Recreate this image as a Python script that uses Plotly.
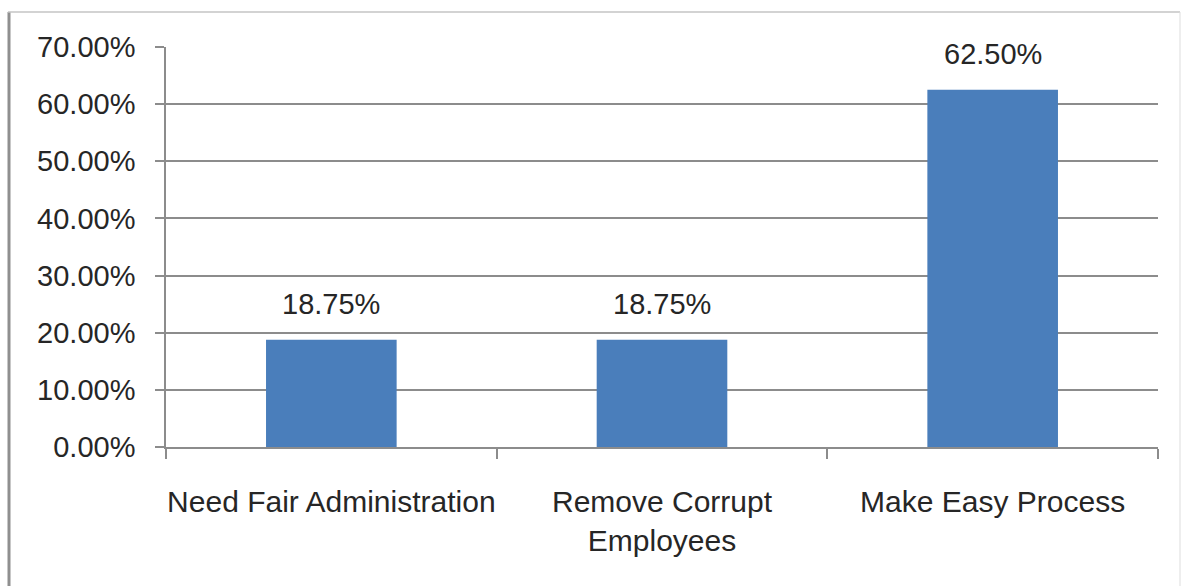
import plotly.graph_objects as go

categories = ["Need Fair Administration", "Remove Corrupt<br>Employees", "Make Easy Process"]
shares = [0.1875, 0.1875, 0.625]
y_ticks = [0, 0.1, 0.2, 0.3, 0.4, 0.5, 0.6, 0.7]

W, H = 1181, 586
L, R, T, B = 166, 23, 47, 139
pw, ph = W - L - R, H - T - B

def px_x(p):
    return (p - L) / pw

def px_y(p):
    return (H - B - p) / ph

text_font = dict(family="Liberation Sans, Arial, sans-serif", size=29, color="#262626")
cat_font = dict(family="Liberation Sans, Arial, sans-serif", size=30, color="#262626")
grey = "#8c8c8c"

fig = go.Figure(
    go.Bar(
        x=categories,
        y=shares,
        marker=dict(color="#4a7ebb", line=dict(width=0)),
        width=0.395,
        hoverinfo="skip",
    )
)

# value labels above each bar
for c, v in zip(categories, shares):
    fig.add_annotation(
        x=c, y=v, text=f"{v * 100:.2f}%", showarrow=False,
        yanchor="bottom", yshift=18, font=text_font,
    )

# outer frame of the chart
fig.add_shape(type="line", xref="paper", yref="paper",
              x0=px_x(9), x1=px_x(9), y0=px_y(12), y1=px_y(H + 5),
              line=dict(color="#8f8f8f", width=3))
fig.add_shape(type="line", xref="paper", yref="paper",
              x0=px_x(8), x1=px_x(1180), y0=px_y(12), y1=px_y(12),
              line=dict(color="#c4c4c4", width=1.5))
fig.add_shape(type="line", xref="paper", yref="paper",
              x0=px_x(1180), x1=px_x(1180), y0=px_y(12), y1=px_y(H + 5),
              line=dict(color="#dddddd", width=1))

fig.update_layout(
    width=W, height=H,
    margin=dict(l=L, r=R, t=T, b=B, pad=0),
    paper_bgcolor="white", plot_bgcolor="white",
    showlegend=False,
    font=text_font,
    xaxis=dict(
        type="category",
        showline=True, linecolor=grey, linewidth=1.5,
        ticks="outside", tickson="boundaries", ticklen=10,
        tickcolor=grey, tickwidth=1.5,
        showgrid=False,
        tickfont=cat_font,
        tickangle=0,
        automargin=False,
        ticklabelstandoff=27,
    ),
    yaxis=dict(
        range=[0, 0.7],
        tickvals=y_ticks, tickformat=".2%",
        showline=True, linecolor=grey, linewidth=1.5,
        ticks="outside", ticklen=9, tickcolor=grey, tickwidth=1.5,
        showgrid=True, gridcolor=grey, gridwidth=1.5,
        zeroline=False,
        tickfont=text_font,
        automargin=False,
        ticklabelstandoff=14,
    ),
)

fig.write_html("out.html")
